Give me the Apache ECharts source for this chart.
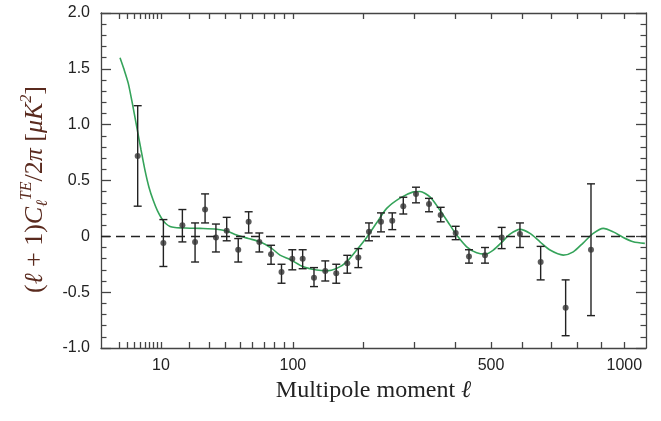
<!DOCTYPE html>
<html>
<head>
<meta charset="utf-8">
<script src="https://cdn.jsdelivr.net/npm/echarts@6/dist/echarts.min.js"></script>
<style>
  html, body { margin: 0; padding: 0; background: #fff; }
  #chart { width: 661px; height: 421px; }
</style>
</head>
<body>
<div id="chart"></div>
<script>
// binned TE data points (multipole, value, error bar ends)
const ell = [4.6, 10.7, 17.3, 22.8, 27.8, 33.9, 40.7, 48.8, 56.9, 66.0, 76.9, 87.5, 99.3, 111.5, 125.8, 141.1, 157.0, 174.0, 192.1, 210.6, 232.7, 254.6, 277.2, 304.7, 334.5, 362.7, 400.9, 436.7, 482.3, 532.7, 591.4, 662.4, 754.6, 855.6];
const teVal = [0.72, -0.06, 0.10, -0.05, 0.24, -0.01, 0.05, -0.12, 0.13, -0.05, -0.16, -0.32, -0.20, -0.20, -0.37, -0.31, -0.33, -0.24, -0.19, 0.04, 0.13, 0.14, 0.27, 0.38, 0.29, 0.19, 0.03, -0.18, -0.17, -0.01, 0.02, -0.23, -0.64, -0.12];
const teHi = [1.17, 0.15, 0.24, 0.12, 0.38, 0.11, 0.17, -0.02, 0.22, 0.03, -0.08, -0.25, -0.12, -0.12, -0.28, -0.22, -0.25, -0.17, -0.11, 0.12, 0.21, 0.21, 0.35, 0.44, 0.34, 0.26, 0.09, -0.12, -0.10, 0.08, 0.12, -0.09, -0.39, 0.47];
const teLo = [0.27, -0.27, -0.05, -0.23, 0.12, -0.14, -0.04, -0.23, 0.03, -0.14, -0.25, -0.42, -0.30, -0.29, -0.45, -0.40, -0.42, -0.33, -0.28, -0.04, 0.04, 0.06, 0.20, 0.30, 0.22, 0.13, -0.03, -0.24, -0.24, -0.11, -0.10, -0.39, -0.89, -0.71];

// model curve
const modelEll = [2.05, 2.5, 3.09, 3.7, 4.43, 5.2, 6.03, 6.9, 7.94, 9.0, 10.2, 11.4, 12.8, 14.5, 16.4, 20.5, 25.2, 34.4, 40.7, 47.7, 56.6, 66.6, 77.5, 85.9, 96.7, 112.3, 129.4, 143.1, 157.7, 173.1, 189.3, 206.5, 224.6, 243.6, 270.3, 298.8, 313.7, 336.8, 361.0, 386.1, 403.4, 430.4, 458.3, 482.3, 507.0, 537.6, 558.9, 591.4, 625.2, 659.9, 696.1, 745.6, 784.2, 824.1, 865.0, 907.3, 950.6, 995.4, 1041, 1096];
const modelTE = [1.60, 1.50, 1.37, 1.19, 0.98, 0.78, 0.59, 0.44, 0.32, 0.23, 0.16, 0.115, 0.088, 0.079, 0.076, 0.073, 0.071, 0.064, 0.047, 0.011, -0.019, -0.049, -0.108, -0.168, -0.207, -0.273, -0.302, -0.309, -0.287, -0.228, -0.123, -0.010, 0.121, 0.250, 0.342, 0.398, 0.402, 0.353, 0.234, 0.100, 0.011, -0.094, -0.148, -0.159, -0.123, -0.040, 0.020, 0.062, 0.026, -0.049, -0.123, -0.168, -0.139, -0.058, 0.026, 0.071, 0.040, -0.010, -0.049, -0.063];

// axis ticks / labels (multipole)
const tickEll = [2, 3, 4, 5, 6, 7, 8, 9, 10, 20, 30, 40, 50, 60, 70, 80, 90, 100, 200, 300, 400, 500, 600, 700, 800, 900, 1000];
const labelEll = [10, 100, 500, 1000];

// the x axis is drawn in l^0.4
const P = 0.4;
const fx = l => Math.pow(l, P);
const xMin = 0.785, xMax = 16.474;

const axisColor = '#444';
const sans = '"Liberation Sans", Arial, sans-serif';
const serif = '"Liberation Serif", "DejaVu Serif", serif';
const titleColor = '#5a2a1e';

const pts = ell.map((l, i) => [fx(l), teVal[i]]);
const bars = ell.map((l, i) => [fx(l), teLo[i], teHi[i]]);
const model = modelEll.map((l, i) => [fx(l), modelTE[i]]);

const chart = echarts.init(document.getElementById('chart'));

function xAxisCfg(pos, showLabels) {
    return {
        type: 'value',
        position: pos,
        min: xMin,
        max: xMax,
        axisLine: { show: true, onZero: false, lineStyle: { color: axisColor, width: 1.3 } },
        axisTick: {
            show: true,
            inside: true,
            length: 6,
            customValues: tickEll.map(fx),
            lineStyle: { color: axisColor, width: 1.3 }
        },
        axisLabel: {
            show: showLabels,
            customValues: labelEll.map(fx),
            formatter: v => String(Math.round(Math.pow(v, 1 / P))),
            color: '#222',
            fontFamily: sans,
            fontSize: 16,
            margin: 10
        },
        splitLine: { show: false }
    };
}

function yAxisCfg(pos, showLabels) {
    return {
        type: 'value',
        position: pos,
        min: -1,
        max: 2,
        interval: 0.5,
        axisLine: { show: true, lineStyle: { color: axisColor, width: 1.3 } },
        axisTick: { show: true, inside: true, length: 10, lineStyle: { color: axisColor, width: 1.3 } },
        minorTick: { show: true, splitNumber: 5, length: 5.5, lineStyle: { color: axisColor, width: 1.2 } },
        axisLabel: {
            show: showLabels,
            formatter: v => v === 0 ? '0' : v.toFixed(1),
            color: '#222',
            fontFamily: sans,
            fontSize: 16,
            margin: 11
        },
        splitLine: { show: false }
    };
}

const xBottom = xAxisCfg('bottom', true);
xBottom.name = '{t|Multipole moment }{i|ℓ}';
xBottom.nameLocation = 'middle';
xBottom.nameGap = 30;
xBottom.nameTextStyle = {
    rich: {
        t: { fontFamily: serif, fontSize: 24, color: '#222' },
        i: { fontFamily: serif, fontSize: 24, fontStyle: 'italic', color: '#222' }
    }
};

const yLeft = yAxisCfg('left', true);
yLeft.name = '{n|(}{i|ℓ}{n| + 1)}{i|C}{sub|ℓ}{sup|TE}{n|/2}{i|π}{n| [}{i|μK}{sup|2}{n|]}';
yLeft.nameLocation = 'middle';
yLeft.nameRotate = 90;
yLeft.nameGap = 50;
yLeft.nameTextStyle = {
    padding: [0, 18, 0, 0],
    rich: {
        n: { fontFamily: serif, fontSize: 26, color: titleColor, lineHeight: 32, verticalAlign: 'middle' },
        i: { fontFamily: serif, fontSize: 26, fontStyle: 'italic', color: titleColor, lineHeight: 32, verticalAlign: 'middle' },
        sub: { fontFamily: serif, fontSize: 16, fontStyle: 'italic', color: titleColor, lineHeight: 32, verticalAlign: 'bottom' },
        sup: { fontFamily: serif, fontSize: 16, fontStyle: 'italic', color: titleColor, lineHeight: 32, verticalAlign: 'top' }
    }
};

const option = {
    backgroundColor: '#fff',
    animation: false,
    grid: { left: 101, right: 15, top: 13, bottom: 73 },
    xAxis: [xBottom, xAxisCfg('top', false)],
    yAxis: [yLeft, yAxisCfg('right', false)],
    series: [
        {
            name: 'model',
            type: 'line',
            data: model,
            smooth: 0.25,
            showSymbol: false,
            lineStyle: { color: '#35a35a', width: 1.6 },
            z: 2,
            markLine: {
                silent: true,
                symbol: 'none',
                label: { show: false },
                lineStyle: { color: '#222', width: 1.3, type: [9, 6] },
                data: [{ yAxis: 0 }]
            }
        },
        {
            name: 'errors',
            type: 'custom',
            data: bars,
            encode: { x: 0, y: [1, 2] },
            z: 3,
            renderItem: (params, api) => {
                const x = api.value(0);
                const lo = api.coord([x, api.value(1)]);
                const hi = api.coord([x, api.value(2)]);
                const w = 4;
                const style = { stroke: '#222', lineWidth: 1.4 };
                return {
                    type: 'group',
                    children: [
                        { type: 'line', shape: { x1: lo[0], y1: lo[1], x2: hi[0], y2: hi[1] }, style },
                        { type: 'line', shape: { x1: lo[0] - w, y1: lo[1], x2: lo[0] + w, y2: lo[1] }, style },
                        { type: 'line', shape: { x1: hi[0] - w, y1: hi[1], x2: hi[0] + w, y2: hi[1] }, style }
                    ]
                };
            }
        },
        {
            name: 'data',
            type: 'scatter',
            data: pts,
            symbol: 'circle',
            symbolSize: 6,
            itemStyle: { color: '#333' },
            z: 4
        }
    ]
};

chart.setOption(option);
</script>
</body>
</html>
